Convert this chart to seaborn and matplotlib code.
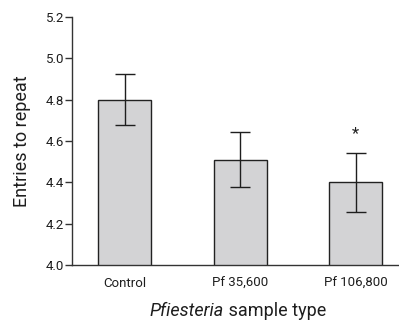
import matplotlib
matplotlib.use("Agg")
import matplotlib.pyplot as plt
from matplotlib.offsetbox import TextArea, HPacker, AnchoredOffsetbox
import seaborn as sns
import pandas as pd
import numpy as np

# Mean entries to repeat per sample type, with standard errors
categories = ["Control", "Pf 35,600", "Pf 106,800"]
means = [4.80, 4.51, 4.40]
errors = [0.122, 0.134, 0.144]
significant = [False, False, True]
yticks = [4.0, 4.2, 4.4, 4.6, 4.8, 5.0, 5.2]

sns.set_style("white")
font = ["Liberation Sans Narrow", "Roboto", "DejaVu Sans"]
plt.rcParams["font.family"] = font
ink = "#1e1e1e"

df = pd.DataFrame({"type": categories, "mean": means})

fig = plt.figure(figsize=(3.99, 3.24), dpi=100)
ax = fig.add_axes([0.1805, 0.182, 0.8195, 0.7655])

sns.barplot(data=df, x="type", y="mean", color="#d3d3d5", saturation=1,
            width=0.46, edgecolor="#222222", linewidth=1.0, errorbar=None, ax=ax)

x = np.arange(len(categories))
ax.errorbar(x, means, yerr=errors, fmt="none", ecolor=ink,
            elinewidth=1.0, capsize=7, capthick=1.0, zorder=5)

for xi, m, e, s in zip(x, means, errors, significant):
    if s:
        ax.text(xi, m + e + 0.09, "*", ha="center", va="center",
                fontsize=12, color=ink)

ax.set_ylim(4.0, 5.2)
ax.set_xlim(-0.455, 2.376)
ax.set_yticks(yticks)
ax.set_yticklabels([f"{v:.1f}" for v in yticks])

for side in ("top", "right"):
    ax.spines[side].set_visible(False)
for side in ("left", "bottom"):
    ax.spines[side].set_color("#333333")
    ax.spines[side].set_linewidth(1.0)

ax.tick_params(axis="y", which="major", left=True, length=5, width=1.0,
               color="#333333", labelsize=9.5, pad=0.5, labelcolor=ink)
ax.tick_params(axis="x", bottom=False, labelsize=9.5, pad=5, labelcolor=ink)

ax.set_ylabel("Entries to repeat", fontsize=13, labelpad=11, color=ink)
ax.set_xlabel("")

# italic genus name followed by plain text
t1 = TextArea("Pfiesteria", textprops=dict(fontsize=13, style="italic",
                                           color=ink, family=font))
t2 = TextArea(" sample type", textprops=dict(fontsize=13, color=ink,
                                             family=font))
box = HPacker(children=[t1, t2], align="baseline", pad=0, sep=0)
anchored = AnchoredOffsetbox(loc="center", child=box, frameon=False,
                             bbox_to_anchor=(0.597, 1 - 311 / 324),
                             bbox_transform=fig.transFigure, pad=0, borderpad=0)
fig.add_artist(anchored)

fig.savefig("out.png", dpi=100)
